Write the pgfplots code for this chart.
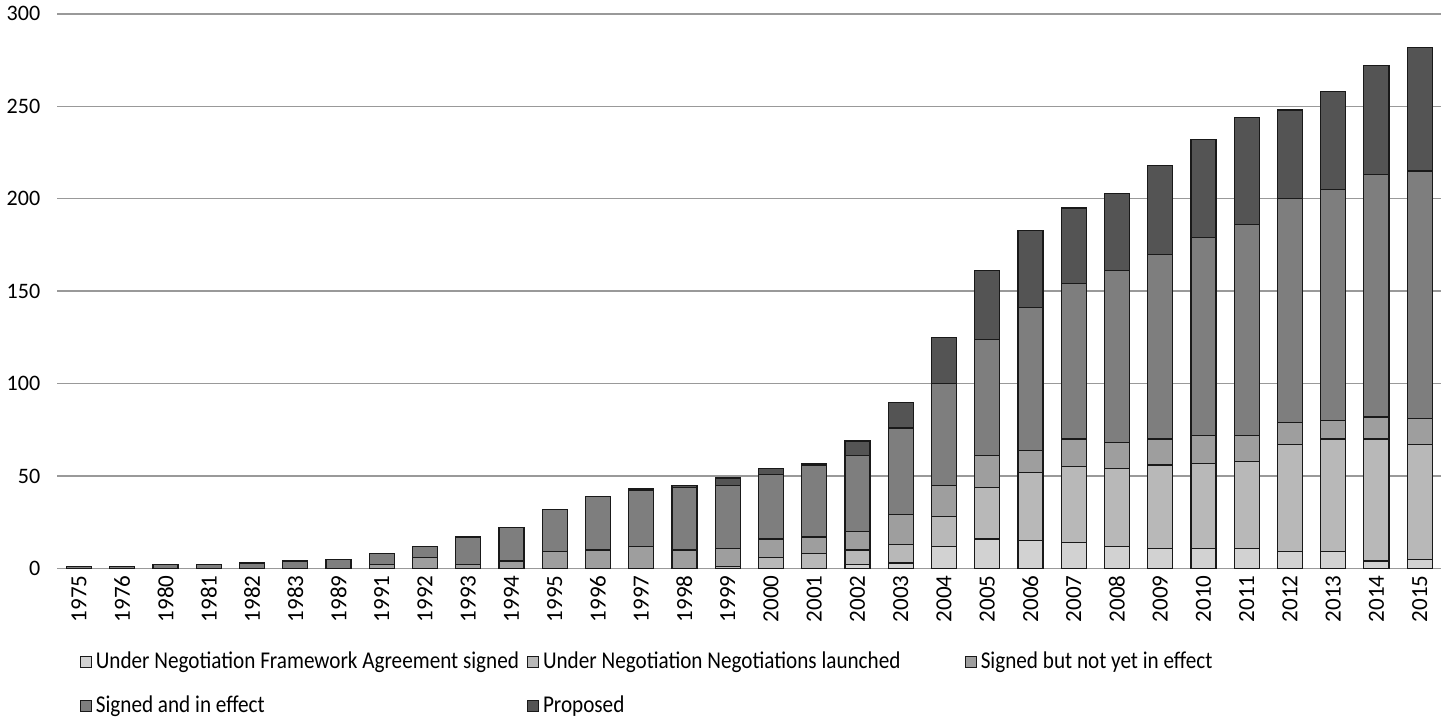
\documentclass[border=0pt]{standalone}
\usepackage{pgfplots}
\usepackage{pgfplotstable}
\pgfplotsset{compat=1.18}
\usepackage{fontspec}
\setmainfont{Carlito}
\newfontfamily\legfont{Carlito}[FakeStretch=0.88]

\definecolor{cfw}{HTML}{D2D2D2}
\definecolor{cla}{HTML}{B8B8B8}
\definecolor{cny}{HTML}{9E9E9E}
\definecolor{cie}{HTML}{7E7E7E}
\definecolor{cpr}{HTML}{545454}

% fw = framework agreement signed, la = negotiations launched,
% ny = signed not yet in effect, ie = signed and in effect, pr = proposed
\pgfplotstableread{
yr   fw la ny ie  pr
1975 0  0  0  1   0
1976 0  0  0  1   0
1980 0  0  0  2   0
1981 0  0  0  2   0
1982 0  0  0  3   0
1983 0  0  0  4   0
1989 0  0  0  5   0
1991 0  0  2  6   0
1992 0  0  6  6   0
1993 0  0  2  15  0
1994 0  0  4  18  0
1995 0  0  9  23  0
1996 0  0  10 29  0
1997 0  0  12 30  1
1998 0  0  10 34  1
1999 0  1  10 34  4
2000 0  6  10 35  3
2001 0  8  9  39  1
2002 2  8  10 41  8
2003 3  10 16 47  14
2004 12 16 17 55  25
2005 16 28 17 63  37
2006 15 37 12 77  42
2007 14 41 15 84  41
2008 12 42 14 93  42
2009 11 45 14 100 48
2010 11 46 15 107 53
2011 11 47 14 114 58
2012 9  58 12 121 48
2013 9  61 10 125 53
2014 4  66 12 131 59
2015 5  62 14 134 67
}\ftadata

\begin{document}
\begin{tikzpicture}
\begin{axis}[
    scale only axis, width=690pt, height=276.5pt,
    ybar stacked, bar width=12.5pt,
    xmin=-0.5, xmax=31.5, ymin=0, ymax=300,
    ytick={0,50,...,300},
    xtick=data,
    xticklabels from table={\ftadata}{yr},
    axis line style={draw=none},
    major tick length=0pt,
    ymajorgrids, grid style={color=black!40, line width=0.7pt},
    tick label style={font=\fontsize{11}{13}\selectfont},
    x tick label style={rotate=90, anchor=east, font=\fontsize{11.5}{13}\selectfont},
    y tick label style={xshift=-5pt},
    /pgf/number format/assume math mode=true,
    every axis plot/.append style={draw=black!90, line width=0.6pt},
    legend columns=3,
    legend cell align=left,
    legend style={draw=none, fill=none, at={(rel axis cs:0,0)}, anchor=north west,
        xshift=8pt, yshift=-37.5pt, row sep=8pt,
        font=\legfont\fontsize{12}{14}\selectfont,
        /tikz/column 2/.style={column sep=2pt},
        /tikz/column 4/.style={column sep=30pt}},
    legend image code/.code={\draw[#1] (0pt,-2.7pt) rectangle (5.4pt,2.7pt);},
]
\addplot[fill=cfw] table[x expr=\coordindex, y=fw] {\ftadata};
\addlegendentry{Under Negotiation Framework Agreement signed}
\addplot[fill=cla] table[x expr=\coordindex, y=la] {\ftadata};
\addlegendentry{Under Negotiation Negotiations launched}
\addplot[fill=cny] table[x expr=\coordindex, y=ny] {\ftadata};
\addlegendentry{Signed but not yet in effect}
\addplot[fill=cie] table[x expr=\coordindex, y=ie] {\ftadata};
\addlegendentry{Signed and in effect}
\addplot[fill=cpr] table[x expr=\coordindex, y=pr] {\ftadata};
\addlegendentry{Proposed}
\end{axis}
\end{tikzpicture}
\end{document}
